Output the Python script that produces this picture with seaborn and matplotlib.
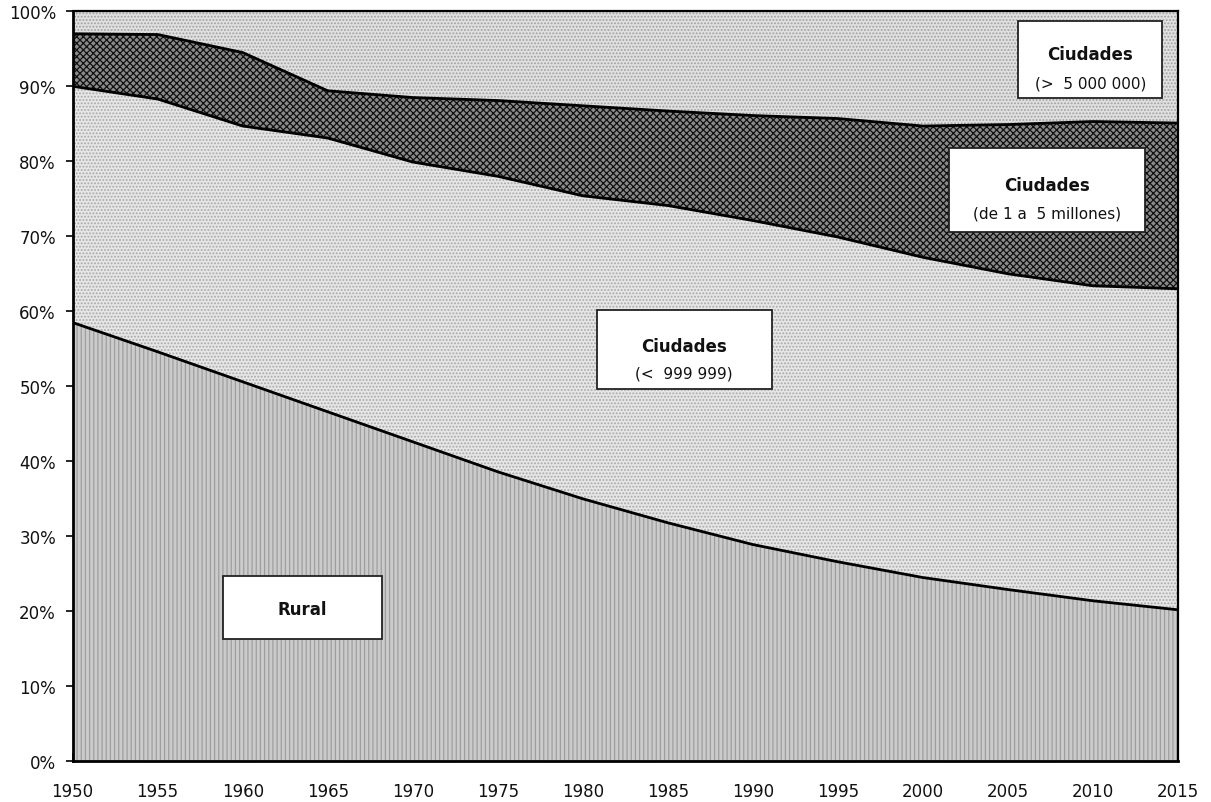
import numpy as np
import pandas as pd
import matplotlib
matplotlib.use("Agg")
import matplotlib.pyplot as plt
import seaborn as sns
from matplotlib.patches import Rectangle

# ---- data (percent of total population) ----
years = [1950, 1955, 1960, 1965, 1970, 1975, 1980, 1985, 1990, 1995, 2000, 2005, 2010, 2015]
rural = [58.5, 54.6, 50.6, 46.6, 42.6, 38.6, 35.0, 31.8, 28.9, 26.6, 24.5, 22.9, 21.4, 20.2]
ciudades_pequenas = [31.5, 33.7, 34.1, 36.5, 37.3, 39.4, 40.4, 42.3, 43.2, 43.3, 42.7, 42.1, 42.0, 42.8]
ciudades_medianas = [7.0, 8.6, 9.8, 6.3, 8.6, 10.1, 12.0, 12.6, 14.0, 15.8, 17.5, 19.9, 21.9, 22.1]
ciudades_grandes = [3.0, 3.1, 5.5, 10.6, 11.5, 11.9, 12.6, 13.3, 13.9, 14.3, 15.3, 15.1, 14.7, 14.9]
y_ticks = [0, 10, 20, 30, 40, 50, 60, 70, 80, 90, 100]
y_labels = [f"{v}%" for v in y_ticks]

sns.set_style("ticks")
plt.rcParams['font.family'] = ['DejaVu Sans']
plt.rcParams['hatch.linewidth'] = 0.9

df = pd.DataFrame({"year": years, "rural": rural, "peq": ciudades_pequenas,
                   "med": ciudades_medianas, "gra": ciudades_grandes})
df["b1"] = df["rural"]
df["b2"] = df["b1"] + df["peq"]
df["b3"] = df["b2"] + df["med"]
df["b4"] = df["b3"] + df["gra"]

fig = plt.figure(figsize=(12.11, 8.03), dpi=100)
ax = fig.add_axes([0.060, 0.0507, 0.9127, 0.9340])

ax.fill_between(df["year"], 0, df["b1"], facecolor="#cbcbcb", hatch="||||",
                edgecolor="#9e9e9e", linewidth=0)
ax.fill_between(df["year"], df["b1"], df["b2"], facecolor="#e6e6e6", hatch=".....",
                edgecolor="#a8a8a8", linewidth=0)
ax.fill_between(df["year"], df["b2"], df["b3"], facecolor="#8a8a8a", hatch="xxxxx",
                edgecolor="#111111", linewidth=0)
ax.fill_between(df["year"], df["b3"], df["b4"], facecolor="#e0e0e0", hatch=".....",
                edgecolor="#a0a0a0", linewidth=0)

long = df.melt(id_vars="year", value_vars=["b1", "b2", "b3"], var_name="limite", value_name="pct")
sns.lineplot(data=long, x="year", y="pct", hue="limite", ax=ax,
             palette={"b1": "black", "b2": "black", "b3": "black"},
             linewidth=2.0, legend=False)

ax.set_xlim(1950, 2015)
ax.set_ylim(0, 100)
ax.set_xticks(years)
ax.set_xticklabels([str(y) for y in years], fontsize=12, color="#111111")
ax.set_yticks(y_ticks)
ax.set_yticklabels(y_labels, fontsize=12, color="#111111")
ax.set_xlabel("")
ax.set_ylabel("")
ax.tick_params(axis="y", direction="inout", length=10, width=1.4, pad=7)
ax.tick_params(axis="x", direction="in", length=6, width=1.4, pad=15)
for s in ax.spines.values():
    s.set_visible(True)
    s.set_linewidth(1.6)
    s.set_color("black")
ax.spines["left"].set_linewidth(2.0)
ax.spines["bottom"].set_linewidth(2.0)

# ---- label boxes ----
boxes = [
    (1958.82, 16.31, 9.39, 8.36),
    (1980.82, 49.64, 10.30, 10.57),
    (2001.55, 70.61, 11.53, 11.16),
    (2005.61, 88.44, 8.48, 10.27),
]
for (x0, y0, w, h) in boxes:
    ax.add_patch(Rectangle((x0, y0), w, h, facecolor="white", edgecolor="#222222",
                           linewidth=1.3, zorder=5))

ax.text(1963.52, 20.3, "Rural", ha="center", va="center", fontsize=12,
        fontweight="bold", color="#111111", zorder=6)
ax.text(1985.96, 55.4, "Ciudades", ha="center", va="center", fontsize=12,
        fontweight="bold", color="#111111", zorder=6)
ax.text(1985.96, 51.8, "(<  999 999)", ha="center", va="center", fontsize=11,
        color="#111111", zorder=6)
ax.text(2007.31, 76.8, "Ciudades", ha="center", va="center", fontsize=12,
        fontweight="bold", color="#111111", zorder=6)
ax.text(2007.31, 73.1, "(de 1 a  5 millones)", ha="center", va="center", fontsize=11,
        color="#111111", zorder=6)
ax.text(2009.84, 94.3, "Ciudades", ha="center", va="center", fontsize=12,
        fontweight="bold", color="#111111", zorder=6)
ax.text(2009.84, 90.45, "(>  5 000 000)", ha="center", va="center", fontsize=11,
        color="#111111", zorder=6)

fig.savefig("out.png", dpi=100)
